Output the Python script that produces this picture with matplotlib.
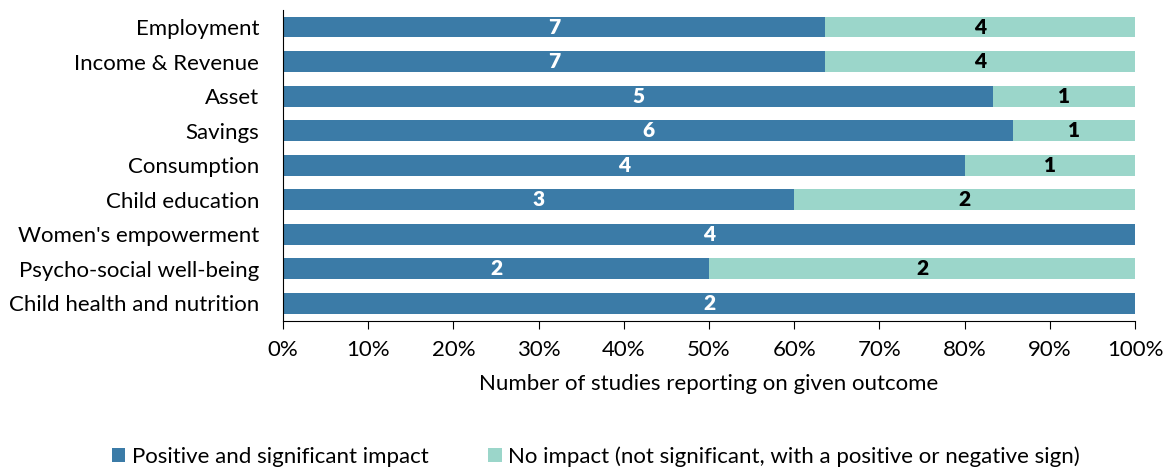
import numpy as np
import matplotlib.pyplot as plt
from matplotlib.ticker import PercentFormatter

plt.rcParams['font.family'] = ['Lato', 'DejaVu Sans']

outcomes = ['Employment', 'Income & Revenue', 'Asset', 'Savings', 'Consumption',
            'Child education', "Women's empowerment", 'Psycho-social well-being',
            'Child health and nutrition']
positive = np.array([7, 7, 5, 6, 4, 3, 4, 2, 2])
no_impact = np.array([4, 4, 1, 1, 1, 2, 0, 2, 0])
series_names = ['Positive and significant impact',
                'No impact (not significant, with a positive or negative sign)']

DARK = '#3b7ba7'
LIGHT = '#9bd6ca'
FS = 16

total = positive + no_impact
pos_share = positive / total
none_share = no_impact / total
y = np.arange(len(outcomes))

fig = plt.figure(figsize=(11.64, 4.68), dpi=100)
ax = fig.add_axes([0.2431, 0.315, 0.732, 0.664])

b1 = ax.barh(y, pos_share, height=0.6, color=DARK, label=series_names[0])
b2 = ax.barh(y, none_share, left=pos_share, height=0.6, color=LIGHT,
             label=series_names[1])

# counts written in the middle of each segment
for i in range(len(outcomes)):
    if positive[i] > 0:
        ax.text(pos_share[i] / 2, y[i], str(positive[i]), ha='center', va='center',
                color='white', fontsize=15, fontweight='heavy')
    if no_impact[i] > 0:
        ax.text(pos_share[i] + none_share[i] / 2, y[i], str(no_impact[i]),
                ha='center', va='center', color='black', fontsize=15,
                fontweight='heavy')

ax.set_ylim(len(outcomes) - 0.5, -0.5)
ax.set_xlim(0, 1)
ax.set_yticks(y)
ax.set_yticklabels(outcomes, fontsize=FS)
ax.tick_params(axis='y', length=0, pad=17)
ax.set_xticks(np.linspace(0, 1, 11))
ax.xaxis.set_major_formatter(PercentFormatter(1.0, decimals=0))
ax.tick_params(axis='x', labelsize=FS, length=6, direction='out', pad=8,
               color='black')
ax.set_xlabel('Number of studies reporting on given outcome', fontsize=FS,
              labelpad=10)
for s in ['top', 'right']:
    ax.spines[s].set_visible(False)
ax.spines['left'].set_color('black')
ax.spines['bottom'].set_color('black')

fig.legend(handles=[b1, b2], loc='lower center', bbox_to_anchor=(0.512, -0.022),
           ncol=2, frameon=False, fontsize=FS, handlelength=0.6,
           handleheight=0.6, handletextpad=0.3, columnspacing=2.7, borderpad=0)

fig.savefig('out.png', dpi=100)
